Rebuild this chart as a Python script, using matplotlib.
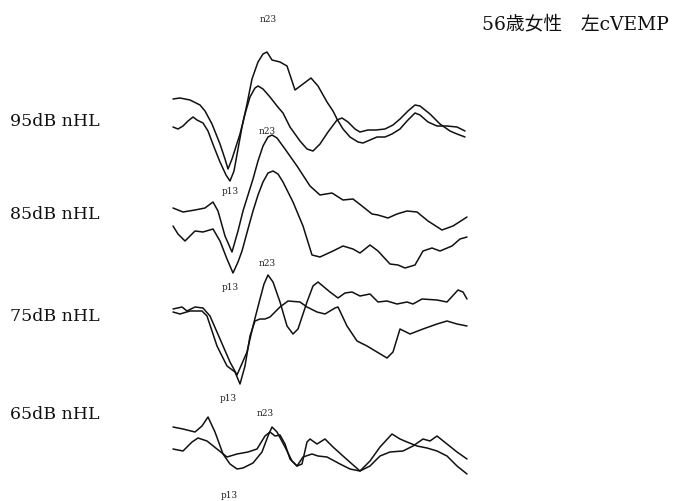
import matplotlib
matplotlib.use("Agg")
import matplotlib.pyplot as plt

# cVEMP recordings, left side, 56-year-old woman.
# Time in ms from stimulus onset, amplitude in microvolts (positive = up).
levels = ["95dB nHL", "85dB nHL", "75dB nHL", "65dB nHL"]
level_offsets = [0, -200, -400, -640]

t_95a = [0, 1.75, 4.25, 6.75, 8, 9.75, 11.75, 13, 13.75, 14.75, 16.75, 18, 19.25, 20.5,
         21.25, 22.5, 24.25, 26, 27.5, 29.25, 31.75, 33.5, 35, 36.75, 38.75, 41, 42.25,
         43.75, 45.5, 46.75, 48.75, 50.75, 53, 55, 56.75, 58.75, 60.5, 61.75, 64.25,
         66.75, 69.25, 71, 73]
v_95a = [40, 42, 38, 28, 16, -10, -50, -80, -100, -80, -30, 10, 44, 62,
         66, 60, 44, 26, 12, -16, -44, -60, -64, -50, -26, -2, 2,
         -6, -20, -26, -22, -22, -20, -12, 0, 16, 28, 26, 10,
         -10, -24, -30, -36]

t_95b = [0, 1.25, 2.5, 3.75, 5, 6, 7.5, 8.75, 10.25, 11.75, 13.25, 14.25, 15.25, 16.25,
         17.25, 18.5, 19.75, 21.25, 22.5, 23.5, 24.75, 26.75, 28.5, 30.5, 32.5, 34.5,
         36.25, 38.5, 40, 41, 42.5, 44.25, 46.25, 47.5, 49.25, 51, 53, 54.75, 56.75,
         58.5, 60.5, 61.75, 63.75, 66, 68.5, 71, 73]
v_95b = [-16, -20, -14, -4, 4, -2, -8, -24, -56, -86, -112, -124, -104, -60,
         -16, 30, 80, 114, 130, 134, 118, 114, 106, 58, 70, 82,
         66, 34, 16, 0, -20, -36, -46, -48, -42, -36, -36, -30, -20,
         -4, 12, 8, -6, -14, -14, -16, -24]

t_85a = [0, 2.5, 5.5, 8, 10, 11.25, 13, 14.75, 16.25, 17.5, 18.75, 20, 21.25, 22.5,
         23.75, 24.75, 26, 28, 31, 34.25, 36.75, 39.75, 42.5, 45, 47.25, 49.75, 51.25,
         53.75, 56, 58.5, 61, 63.75, 67.25, 70, 73.5]
v_85a = [22, 14, 18, 22, 34, 16, -34, -66, -24, 16, 48, 80, 116, 146,
         164, 168, 162, 140, 106, 66, 48, 52, 38, 40, 26, 10, 8,
         2, 10, 16, 14, -4, -22, -14, 4]

t_85b = [0, 1.25, 3, 4.25, 5.5, 7.5, 10, 11.75, 13.5, 15, 16.25, 17.25, 18.75, 20,
         21.25, 22.5, 23.75, 25, 26.25, 27.5, 30, 32.5, 34.75, 36.75, 40, 42.5, 45,
         46.75, 49.25, 51.25, 54.25, 56.25, 58, 60.5, 62.5, 64.75, 66.75, 69.75, 71.75,
         73.5]
v_85b = [-14, -30, -44, -34, -24, -26, -20, -44, -80, -108, -86, -64, -20, 16,
         48, 74, 92, 96, 90, 74, 34, -14, -72, -76, -64, -54, -60,
         -68, -52, -64, -90, -92, -98, -92, -64, -58, -64, -54, -40,
         -36]

t_75a = [0, 2.25, 3.5, 5.5, 7.5, 9.25, 11.75, 14.25, 16, 18.5, 20, 21.75, 22.75, 23.75,
         25, 26.75, 28.5, 30, 31.25, 33.5, 35, 36.25, 37.75, 39.25, 41.25, 43, 44.75,
         46.75, 49.25, 51.25, 53.5, 56, 58.5, 60, 62.25, 66, 68.5, 71.25, 72.5, 73.5]
v_75a = [20, 24, 16, 24, 22, 6, -40, -86, -112, -66, -14, 40, 70, 88,
         74, 34, -14, -30, -20, 34, 66, 74, 64, 54, 42, 52, 54,
         46, 50, 34, 36, 30, 34, 30, 40, 38, 34, 58, 54, 40]

t_75b = [0, 1.75, 4.25, 7.25, 8.5, 11, 13.5, 15.5, 16.75, 18, 19.25, 20.5, 21.75, 23,
         24.25, 26.75, 28.75, 31.75, 33.5, 36, 38, 40.5, 41.25, 43.5, 46, 48.5, 51,
         53.5, 55, 56.75, 59.25, 62.5, 66, 68.5, 71, 73.5]
v_75b = [14, 10, 16, 16, 6, -54, -94, -106, -130, -94, -34, -4, 0, 0,
         4, 24, 36, 34, 24, 14, 10, 22, 24, -14, -44, -54, -66,
         -78, -66, -20, -30, -20, -10, -4, -10, -14]

t_65a = [0, 2.5, 5.5, 7.25, 8.75, 10.5, 12.5, 14.25, 16, 17.5, 20, 22.25, 23.75, 24.75,
         26, 28, 29.75, 31, 32.25, 33.5, 34.25, 36, 38, 40, 42.5, 44.75, 46.75, 49.25,
         51.75, 54.75, 56.75, 58.5, 61, 63.5, 66, 68.5, 71, 73.5]
v_65a = [24, 20, 14, 26, 44, 14, -30, -50, -60, -58, -48, -26, 6, 24,
         14, -16, -44, -54, -50, -6, 0, -10, 0, -16, -34, -50, -64, -44,
         -16, 10, 0, -6, -14, -18, -24, -34, -54, -70]

t_65b = [0, 2.5, 4.75, 6.25, 8.5, 11, 13.5, 16, 18.75, 21, 23, 24.25, 25.5, 26.75,
         28, 29.25, 31, 32.5, 34.75, 36.25, 38.5, 41.75, 44.25, 46.75, 49.25, 51.75,
         54.25, 57.5, 60, 62.5, 64.25, 66, 68.5, 71, 73.5]
v_65b = [-20, -24, -6, 2, -4, -20, -36, -30, -26, -20, 6, 14, 6, 8,
         -10, -40, -54, -36, -30, -34, -36, -50, -60, -64, -54, -34,
         -26, -24, -14, 0, -4, 6, -10, -26, -40]

traces = [
    (t_95a, v_95a, 0), (t_95b, v_95b, 0),
    (t_85a, v_85a, 1), (t_85b, v_85b, 1),
    (t_75a, v_75a, 2), (t_75b, v_75b, 2),
    (t_65a, v_65a, 3), (t_65b, v_65b, 3),
]

# peak label anchors (ms, microvolts on the stacked scale)
n23_pos = [(23.75, 202), (23.5, -22), (23.5, -288), (23.0, -588)]
p13_pos = [(14.25, -142), (14.25, -336), (13.75, -558), (14.0, -752)]
level_label_y = [0.757, 0.572, 0.369, 0.175]

fig = plt.figure(figsize=(6.76, 5.02), dpi=100)
ax = fig.add_axes([0, 0, 1, 1])
ax.set_xlim(-43.25, 125.75)
ax.set_ylim(-764, 240)
ax.axis("off")

for t, v, lvl in traces:
    ax.plot(t, [a + level_offsets[lvl] for a in v], color="#111111",
            lw=1.1, solid_joinstyle="round", solid_capstyle="round")

for (x, y) in n23_pos:
    ax.text(x, y, "n23", family="DejaVu Serif", fontsize=6.5,
            ha="center", va="center", color="#222222")
for (x, y) in p13_pos:
    ax.text(x, y, "p13", family="DejaVu Serif", fontsize=6.5,
            ha="center", va="center", color="#222222")

for lab, y in zip(levels, level_label_y):
    fig.text(0.015, y, lab, family="DejaVu Serif", fontsize=12.5,
             ha="left", va="center", color="#111111")

fig.text(0.713, 0.952, "56歳女性\u3000左cVEMP",
         family=["DejaVu Serif", "Noto Sans CJK JP"], fontsize=13.5,
         ha="left", va="center", color="#111111")

fig.savefig("out.png", dpi=100, facecolor="white")
